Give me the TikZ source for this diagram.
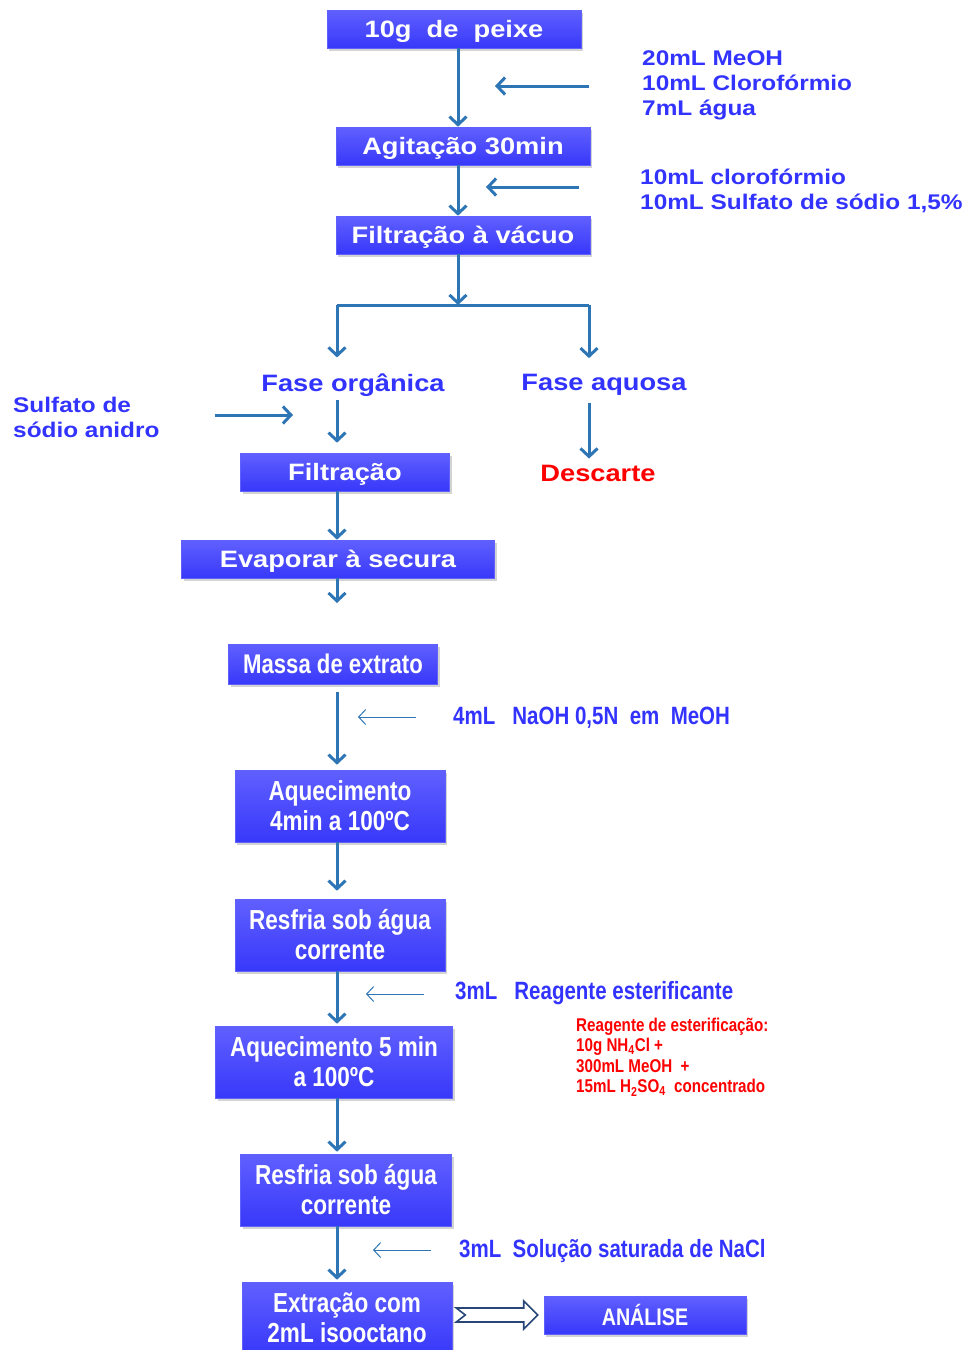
\documentclass[tikz,border=0pt]{standalone}
\usepackage{fontspec}
\setmainfont{Liberation Sans}
\newfontfamily\widefont[FakeStretch=1.15]{Liberation Sans}
\newfontfamily\narrowfont[FakeStretch=0.82]{Liberation Sans}
\usetikzlibrary{arrows.meta,positioning,shadows,calc}
\usepackage{xcolor}
\definecolor{boxblue}{RGB}{56,56,250}
\definecolor{boxlight}{RGB}{96,96,255}
\definecolor{flowblue}{RGB}{46,117,182}
\definecolor{labblue}{RGB}{51,51,255}
\definecolor{alert}{RGB}{255,0,0}
\definecolor{outl}{RGB}{40,70,120}
\tikzset{
  box/.style={draw=boxlight,line width=0.6pt,top color=boxlight,bottom color=boxblue,
    text=white,inner sep=0pt,align=center,
    drop shadow={opacity=0.35,shadow xshift=2pt,shadow yshift=-3pt}},
  tbox/.style={box,minimum height=38pt,text height=17pt,text depth=0pt,
    font=\widefont\bfseries\fontsize{23.7}{28}\selectfont},
  nbox/.style={box,font=\narrowfont\bfseries\fontsize{27.5}{30}\selectfont},
  wlab/.style={labblue,inner sep=0pt,align=left,font=\widefont\bfseries\fontsize{21.2}{25}\selectfont},
  blab/.style={wlab,font=\widefont\bfseries\fontsize{23.7}{28}\selectfont},
  nlab/.style={labblue,inner sep=0pt,anchor=west,font=\narrowfont\bfseries\fontsize{25}{28}\selectfont},
  flow/.style={flowblue,line width=3pt,-{Straight Barb[length=8pt,width=17pt]}},
  feed/.style={flowblue,line width=1pt,-{Straight Barb[length=7pt,width=15pt]}},
  hollow/.style={outl,line width=1.6pt,fill=white,line join=miter},
}

\begin{document}
\begin{tikzpicture}[x=1pt,y=-1pt]
  \useasboundingbox (0,0) rectangle (968,1350);

  % extraction
  \node[tbox,minimum width=254pt] (peixe) at (454,29) {10g\ \ de\ \ peixe};
  \node[tbox,minimum width=254pt] (agit) at (463,146) {Agitação 30min};
  \node[tbox,minimum width=254pt] (filtv) at (463,235) {Filtração à vácuo};
  \node[wlab,anchor=west] (reag1) at (642,85) {20mL MeOH\\10mL Clorofórmio\\7mL água};
  \node[wlab,anchor=west] (reag2) at (640,190.5) {10mL clorofórmio\\10mL Sulfato de sódio 1,5\%};
  \coordinate (split) at (458,305);
  \coordinate (feed1) at (495,86);
  \coordinate (feed2) at (486,187);
  \draw[flow] (peixe.south -| split) -- (agit.north -| split);
  \draw[flow] (agit.south -| split) -- (filtv.north -| split);
  \draw[flow] (filtv.south -| split) -- (split);
  \draw[flow,shorten <=53pt] (reag1.west |- feed1) -- (feed1);
  \draw[flow,shorten <=61pt] (reag2.west |- feed2) -- (feed2);

  % phases
  \coordinate (orgTop) at (337,305);
  \coordinate (aqTop) at (589,305);
  \draw[flowblue,line width=3pt] (orgTop) -- (aqTop);
  \node[blab] (faseorg) at (353,385) {Fase orgânica};
  \node[blab] (faseaq) at (604,385) {Fase aquosa};
  \node[blab,alert] (desc) at (598,473) {Descarte};
  \node[wlab,anchor=west] (sulf) at (13,417.5) {Sulfato de\\sódio anidro};
  \draw[flow,shorten >=16pt] (orgTop) -- (faseorg.north -| orgTop);
  \draw[flow,shorten >=16pt] (aqTop) -- (faseaq.north -| aqTop);
  \node[tbox,minimum width=209pt] (filt) at (345,472) {Filtração};
  \node[tbox,minimum width=313pt] (evap) at (338,559) {Evaporar à secura};
  \coordinate (sulfIn) at (293,415);
  \draw[flow,shorten <=55pt] (sulf.east |- sulfIn) -- (sulfIn);
  \draw[flow,shorten <=3pt,shorten >=10pt] (faseorg.south -| orgTop) -- (filt.north -| orgTop);
  \draw[flow,shorten <=7pt,shorten >=6pt] (faseaq.south -| aqTop) -- (desc.north -| aqTop);
  \draw[flow] (filt.south -| orgTop) -- (evap.north -| orgTop);
  \coordinate (evapEnd) at (337,603);
  \draw[flow] (evap.south -| evapEnd) -- (evapEnd);

  % derivatization
  \coordinate (lower) at (337,0);
  \node[nbox,minimum width=209pt,minimum height=40pt,font=\narrowfont\bfseries\fontsize{27}{30}\selectfont] (massa) at (333,664) {Massa de extrato};
  \node[nbox,minimum width=210pt,minimum height=72pt] (aq1) at (340,806) {Aquecimento\\4min a 100ºC};
  \node[nbox,minimum width=210pt,minimum height=72pt] (resf1) at (340,935) {Resfria sob água\\corrente};
  \node[nbox,minimum width=237pt,minimum height=72pt] (aq2) at (334,1062) {Aquecimento 5 min\\a 100ºC};
  \node[nbox,minimum width=211pt,minimum height=72pt] (resf2) at (346,1190) {Resfria sob água\\corrente};
  \node[nbox,minimum width=210pt,minimum height=72pt] (extr) at (347,1318) {Extração com\\2mL isooctano};
  \node[nbox,minimum width=202pt,minimum height=38pt,font=\narrowfont\bfseries\fontsize{24}{28}\selectfont] (analise) at (645,1315) {ANÁLISE};

  \draw[flow,shorten <=8pt,shorten >=5pt] (massa.south -| lower) -- (aq1.north -| lower);
  \draw[flow,shorten >=8pt] (aq1.south -| lower) -- (resf1.north -| lower);
  \draw[flow,shorten >=2pt] (resf1.south -| lower) -- (aq2.north -| lower);
  \draw[flow,shorten >=2pt] (aq2.south -| lower) -- (resf2.north -| lower);
  \draw[flow,shorten >=2pt] (resf2.south -| lower) -- (extr.north -| lower);
  % block arrow to analysis
  \coordinate (da) at (extr.east |- analise);
  \coordinate (db) at (analise.west);
  \draw[hollow] ($(da)+(4,-7)$) -- ($(db)+(-20,-7)$) -- ($(db)+(-20,-14)$) -- ($(db)+(-6,0)$)
    -- ($(db)+(-20,14)$) -- ($(db)+(-20,7)$) -- ($(da)+(4,7)$) -- ($(da)+(13,0)$) -- cycle;

  \node[nlab] (naoh) at (453,718) {4mL\ \ \ NaOH 0,5N\ \ em\ \ MeOH};
  \node[nlab] (ester) at (455,993) {3mL\ \ \ Reagente esterificante};
  \node[nlab] (nacl) at (459,1251) {3mL\ \ Solução saturada de NaCl};
  \node[alert,inner sep=0pt,anchor=west,align=left,font=\narrowfont\bfseries\fontsize{18.5}{20.5}\selectfont] (nota) at (576,1057)
    {Reagente de esterificação:\\10g NH\textsubscript{4}Cl +\\300mL MeOH\ \ +\\15mL H\textsubscript{2}SO\textsubscript{4}\ \ concentrado};
  \coordinate (feedA) at (358,717);
  \coordinate (feedB) at (366,994);
  \coordinate (feedC) at (373,1250);
  \draw[feed,shorten <=37pt] (naoh.west |- feedA) -- (feedA);
  \draw[feed,shorten <=31pt] (ester.west |- feedB) -- (feedB);
  \draw[feed,shorten <=28pt] (nacl.west |- feedC) -- (feedC);
\end{tikzpicture}
\end{document}
